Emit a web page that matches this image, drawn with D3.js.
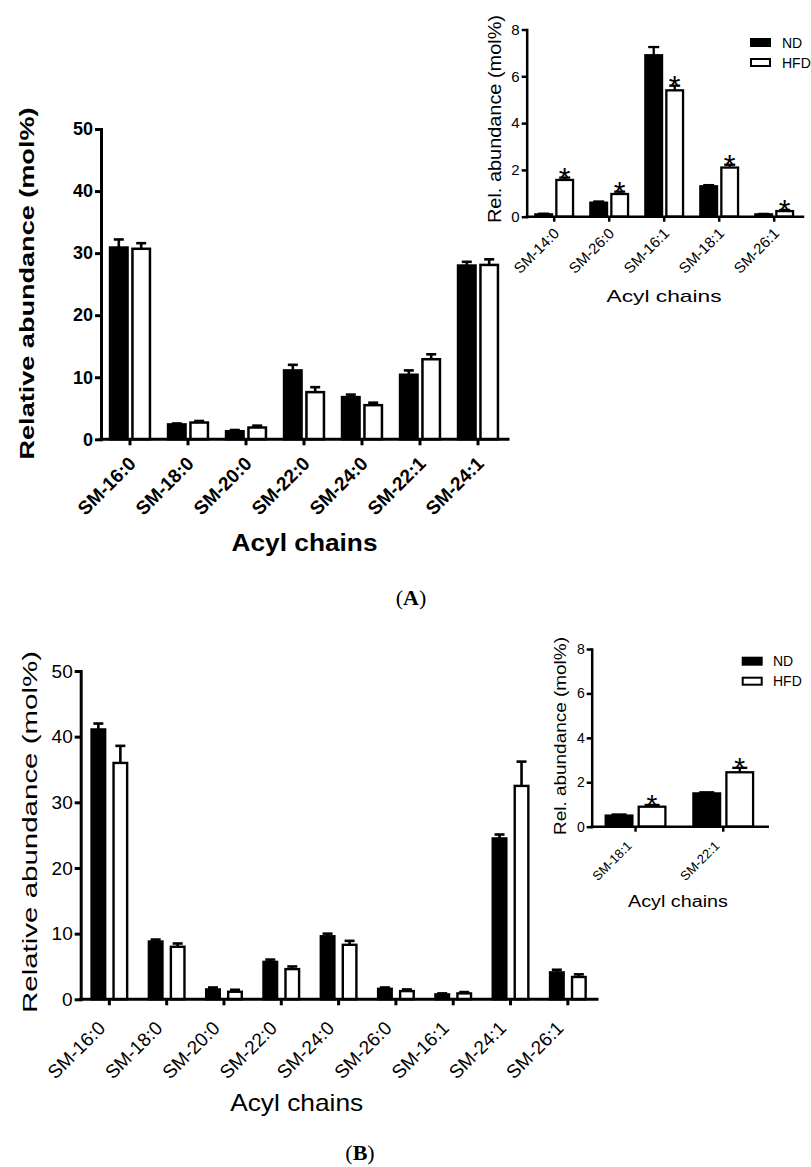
<!DOCTYPE html>
<html><head><meta charset="utf-8">
<script src="https://cdn.jsdelivr.net/npm/d3@7"></script>
<style>body{margin:0;background:#fff}svg{display:block}</style>
</head><body>
<svg id="c" width="811" height="1167"></svg>
<script>
// ---------- Data ----------
const catsA = ["SM-16:0","SM-18:0","SM-20:0","SM-22:0","SM-24:0","SM-22:1","SM-24:1"];
const ndA = [30.9, 2.4, 1.3, 11.1, 6.8, 10.4, 28.0];
const ndAErr = [1.3, 0.15, 0.2, 0.9, 0.4, 0.7, 0.6];
const hfdA = [30.7, 2.7, 1.9, 7.6, 5.5, 12.9, 28.1];
const hfdAErr = [0.9, 0.25, 0.3, 0.8, 0.4, 0.8, 0.9];

const catsAIn = ["SM-14:0","SM-26:0","SM-16:1","SM-18:1","SM-26:1"];
const ndAIn = [0.1, 0.6, 6.9, 1.3, 0.1];
const ndAInErr = [0.03, 0.05, 0.35, 0.05, 0.02];
const hfdAIn = [1.57, 0.97, 5.4, 2.1, 0.24];
const hfdAInErr = [0.1, 0.1, 0.2, 0.12, 0.05];
const sigAIn = [true, true, true, true, true];

const catsB = ["SM-16:0","SM-18:0","SM-20:0","SM-22:0","SM-24:0","SM-26:0","SM-16:1","SM-24:1","SM-26:1"];
const ndB = [41.1, 8.8, 1.5, 5.7, 9.6, 1.6, 0.75, 24.5, 4.1];
const ndBErr = [0.9, 0.3, 0.3, 0.35, 0.4, 0.2, 0.15, 0.6, 0.4];
const hfdB = [36.0, 8.0, 1.15, 4.6, 8.3, 1.25, 0.9, 32.5, 3.4];
const hfdBErr = [2.6, 0.5, 0.3, 0.4, 0.6, 0.25, 0.2, 3.7, 0.4];

const catsBIn = ["SM-18:1","SM-22:1"];
const ndBIn = [0.5, 1.5];
const ndBInErr = [0.05, 0.05];
const hfdBIn = [0.9, 2.45];
const hfdBInErr = [0.08, 0.2];
const sigBIn = [true, true];

const yTicksMain = [0, 10, 20, 30, 40, 50];
const yTicksInset = [0, 2, 4, 6, 8];
const legendLabels = ["ND", "HFD"];

// ---------- Drawing ----------
const svg = d3.select("#c");
const FONT = "Arial, 'Liberation Sans', Helvetica, sans-serif";

function panel(o) {
  const g = svg.append("g");
  const x = d3.scaleBand().domain(o.cats).range([o.x0, o.x1]);
  const y = d3.scaleLinear().domain([0, o.ymax]).range([o.y0, o.y1]);
  const sw = o.sw;
  const rows = o.cats.map((c, i) => ({
    c, nd: o.nd[i], ndE: o.ndE[i], hfd: o.hfd[i], hfdE: o.hfdE[i],
    sig: o.sig ? o.sig[i] : false
  }));
  const cx = c => x(c) + x.bandwidth() / 2;

  const errs = [];
  rows.forEach(r => {
    errs.push({xc: cx(r.c) - o.off - o.bw / 2, v: r.nd, e: r.ndE});
    errs.push({xc: cx(r.c) + o.off + o.bw / 2, v: r.hfd, e: r.hfdE});
  });
  g.selectAll("line.ev").data(errs).join("line")
    .attr("x1", d => d.xc).attr("x2", d => d.xc)
    .attr("y1", d => y(d.v)).attr("y2", d => y(d.v + d.e))
    .attr("stroke", "#000").attr("stroke-width", o.esw);
  g.selectAll("line.ec").data(errs).join("line")
    .attr("x1", d => d.xc - o.cap / 2).attr("x2", d => d.xc + o.cap / 2)
    .attr("y1", d => y(d.v + d.e)).attr("y2", d => y(d.v + d.e))
    .attr("stroke", "#000").attr("stroke-width", o.esw);

  g.selectAll("rect.nd").data(rows).join("rect")
    .attr("x", d => cx(d.c) - o.off - o.bw + sw / 2)
    .attr("width", o.bw - sw)
    .attr("y", d => y(d.nd))
    .attr("height", d => Math.max(0, y(0) - y(d.nd)))
    .attr("fill", "#000").attr("stroke", "#000").attr("stroke-width", sw);
  g.selectAll("rect.hfd").data(rows).join("rect")
    .attr("x", d => cx(d.c) + o.off + sw / 2)
    .attr("width", o.bw - sw)
    .attr("y", d => y(d.hfd))
    .attr("height", d => Math.max(0, y(0) - y(d.hfd)))
    .attr("fill", "#fff").attr("stroke", "#000").attr("stroke-width", sw);

  g.selectAll("text.sig").data(rows.filter(r => r.sig)).join("text")
    .attr("x", d => cx(d.c) + o.off + o.bw / 2)
    .attr("y", d => y(d.hfd + d.hfdE) - 3 + o.starSize * 0.43)
    .attr("text-anchor", "middle")
    .attr("font-family", FONT).attr("font-size", o.starSize)
    .text("*");

  const ya = g.append("g").attr("transform", `translate(${o.x0},0)`)
    .call(d3.axisLeft(y).tickValues(o.yticks).tickSize(o.tick).tickSizeOuter(0).tickPadding(2));
  const xa = g.append("g").attr("transform", `translate(0,${o.y0})`)
    .call(d3.axisBottom(x).tickSize(o.tick).tickSizeOuter(0));
  [ya, xa].forEach(a => {
    a.select(".domain").attr("stroke", "#000").attr("stroke-width", o.asw).attr("stroke-linecap", "square");
    a.selectAll(".tick line").attr("stroke", "#000").attr("stroke-width", o.asw);
  });
  xa.select(".domain").attr("d", `M${o.x0},0H${o.xEnd}`);
  ya.selectAll(".tick text")
    .attr("font-family", FONT).attr("font-size", o.ytFont).attr("font-weight", o.weight)
    .attr("fill", "#000");
  xa.selectAll(".tick text")
    .attr("font-family", FONT).attr("font-size", o.xtFont).attr("font-weight", o.weight)
    .attr("fill", "#000")
    .attr("text-anchor", "end").attr("x", 0).attr("y", 0).attr("dy", 0)
    .attr("transform", `translate(${o.xlDx},${o.xlDy}) rotate(-45)`);

  g.append("text")
    .attr("transform", `translate(${o.ytx},${o.yty}) rotate(-90)`)
    .attr("text-anchor", "middle").attr("dy", "0.36em")
    .attr("font-family", FONT).attr("font-size", o.ytitleFont).attr("font-weight", o.weight)
    .attr("textLength", o.ytitleLen).attr("lengthAdjust", "spacingAndGlyphs")
    .text(o.ytitle);
  g.append("text")
    .attr("x", o.xtx).attr("y", o.xty)
    .attr("text-anchor", "middle")
    .attr("font-family", FONT).attr("font-size", o.xtitleFont).attr("font-weight", o.weight)
    .attr("textLength", o.xtitleLen).attr("lengthAdjust", "spacingAndGlyphs")
    .text("Acyl chains");
}

function legend(lx, ly, gap, tx, size) {
  const g = svg.append("g");
  g.selectAll("rect").data(legendLabels).join("rect")
    .attr("x", (d, i) => i === 0 ? lx : lx + 1)
    .attr("y", (d, i) => i === 0 ? ly : ly + gap + 1)
    .attr("width", (d, i) => i === 0 ? 21 : 19)
    .attr("height", (d, i) => i === 0 ? 9 : 7)
    .attr("fill", (d, i) => i === 0 ? "#000" : "#fff")
    .attr("stroke", (d, i) => i === 0 ? "none" : "#000")
    .attr("stroke-width", 2);
  g.selectAll("text").data(legendLabels).join("text")
    .attr("x", tx).attr("y", (d, i) => ly + 9.5 + i * gap)
    .attr("font-family", FONT).attr("font-size", size).attr("fill", "#000")
    .text(d => d);
}

function panelLabel(letter, cx, by) {
  const t = svg.append("text").attr("x", cx).attr("y", by).attr("text-anchor", "middle")
    .attr("font-family", "'Liberation Serif', 'Times New Roman', serif").attr("font-size", 22).attr("fill", "#000");
  t.append("tspan").text("(");
  t.append("tspan").attr("font-weight", "bold").text(letter);
  t.append("tspan").text(")");
}

panel({cats: catsA, nd: ndA, ndE: ndAErr, hfd: hfdA, hfdE: hfdAErr,
  x0: 101, x1: 507, xEnd: 508, y0: 439.3, y1: 129, ymax: 50, yticks: yTicksMain,
  bw: 20, off: 1.2, sw: 2.5, esw: 2.6, cap: 10, asw: 3, tick: 6,
  ytFont: 18, xtFont: 19, weight: "bold", xlDx: 7, xlDy: 25.5, starSize: 30,
  ytitle: "Relative abundance (mol%)", ytx: 26.5, yty: 283.5, ytitleFont: 21, ytitleLen: 352,
  xtx: 304.5, xty: 551, xtitleFont: 24, xtitleLen: 146});

panel({cats: catsAIn, nd: ndAIn, ndE: ndAInErr, hfd: hfdAIn, hfdE: hfdAInErr, sig: sigAIn,
  x0: 526.7, x1: 801.7, xEnd: 803, y0: 216.7, y1: 29.5, ymax: 8, yticks: yTicksInset,
  bw: 19, off: 1, sw: 2.3, esw: 2.3, cap: 11, asw: 2.5, tick: 5,
  ytFont: 15, xtFont: 15, weight: "normal", xlDx: 6, xlDy: 17.6, starSize: 30,
  ytitle: "Rel. abundance (mol%)", ytx: 495, yty: 119, ytitleFont: 18, ytitleLen: 208,
  xtx: 664, xty: 302, xtitleFont: 17, xtitleLen: 115});
legend(750, 38, 20, 782, 14);

panel({cats: catsB, nd: ndB, ndE: ndBErr, hfd: hfdB, hfdE: hfdBErr,
  x0: 80.7, x1: 596.5, xEnd: 597, y0: 999.3, y1: 671, ymax: 50, yticks: yTicksMain,
  bw: 16, off: 3, sw: 2.4, esw: 2.6, cap: 10, asw: 3, tick: 6,
  ytFont: 19, xtFont: 19, weight: "normal", xlDx: -3, xlDy: 30, starSize: 30,
  ytitle: "Relative abundance (mol%)", ytx: 29, yty: 832, ytitleFont: 21, ytitleLen: 362,
  xtx: 296.7, xty: 1111, xtitleFont: 24, xtitleLen: 133});

panel({cats: catsBIn, nd: ndBIn, ndE: ndBInErr, hfd: hfdBIn, hfdE: hfdBInErr, sig: sigBIn,
  x0: 591.7, x1: 767.1, xEnd: 767.7, y0: 826.7, y1: 649, ymax: 8, yticks: yTicksInset,
  bw: 29, off: 2, sw: 2.3, esw: 2.3, cap: 15, asw: 2.5, tick: 5,
  ytFont: 14, xtFont: 13, weight: "normal", xlDx: -3, xlDy: 20, starSize: 28,
  ytitle: "Rel. abundance (mol%)", ytx: 560, yty: 736, ytitleFont: 17, ytitleLen: 198,
  xtx: 678, xty: 907, xtitleFont: 16, xtitleLen: 100});
legend(741.7, 656.7, 20, 773, 14);

panelLabel("A", 411, 605);
panelLabel("B", 360, 1160);
</script>
</body></html>
